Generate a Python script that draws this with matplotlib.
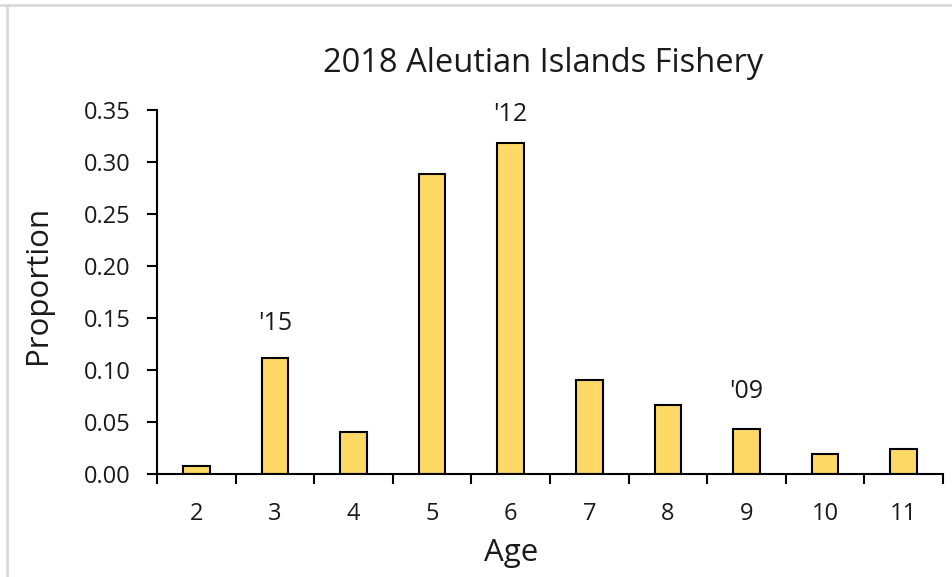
import numpy as np
import matplotlib.pyplot as plt
from matplotlib.lines import Line2D

# age composition, 2018 Aleutian Islands fishery
ages = ['2', '3', '4', '5', '6', '7', '8', '9', '10', '11']
proportion = [0.008, 0.112, 0.040, 0.288, 0.318, 0.090, 0.066, 0.043, 0.019, 0.024]

# year-class labels: (age index, height, text)
cohort_idx = [1, 4, 7]
cohort_y = [0.145, 0.346, 0.079]
cohort_text = ["'15", "'12", "'09"]

plt.rcParams['font.family'] = ['Open Sans', 'DejaVu Sans']
plt.rcParams['text.color'] = '#1a1a1a'
plt.rcParams['axes.labelcolor'] = '#1a1a1a'
plt.rcParams['xtick.labelcolor'] = '#1a1a1a'
plt.rcParams['ytick.labelcolor'] = '#1a1a1a'

fig = plt.figure(figsize=(9.53, 5.77), dpi=100)
ax = fig.add_axes([0.1647, 0.1785, 0.8248, 0.6309])

x = np.arange(len(ages))
ax.bar(x, proportion, width=0.34, color='#FFD966', edgecolor='black', linewidth=1.5)

for i, y, t in zip(cohort_idx, cohort_y, cohort_text):
    ax.text(x[i], y, t, ha='center', va='center', fontsize=18)

ax.set_xlim(-0.5, len(ages) - 0.5)
ax.set_ylim(0, 0.35)
ax.set_yticks(np.arange(0, 0.351, 0.05))
ax.set_yticklabels(['%.2f' % v for v in np.arange(0, 0.351, 0.05)])

# ticks between categories, labels at centres
ax.set_xticks(np.arange(-0.5, len(ages), 1.0))
ax.set_xticklabels([])
ax.set_xticks(x, minor=True)
ax.set_xticklabels(ages, minor=True)
ax.tick_params(axis='x', which='minor', length=0, pad=20, labelsize=17)
ax.tick_params(axis='x', which='major', length=7, width=1.5, direction='out')
ax.tick_params(axis='y', length=7, width=1.5, direction='out', labelsize=17, pad=12)

for s in ['top', 'right']:
    ax.spines[s].set_visible(False)
for s in ['left', 'bottom']:
    ax.spines[s].set_linewidth(1.5)

ax.set_title('2018 Aleutian Islands Fishery', fontsize=23.5, pad=27, x=0.491)
ax.set_xlabel('Age', fontsize=22.5)
ax.set_ylabel('Proportion', fontsize=22.5)
ax.xaxis.set_label_coords(0.45, -0.175)
ax.yaxis.set_label_coords(-0.132, 0.52)

# light frame along the top and left edges
fig.add_artist(Line2D([0, 1], [1 - 5 / 577, 1 - 5 / 577], transform=fig.transFigure, color='#D9D9D9', lw=2))
fig.add_artist(Line2D([7 / 953, 7 / 953], [0, 1 - 5 / 577], transform=fig.transFigure, color='#D9D9D9', lw=2))

fig.savefig('out.png', dpi=100)
